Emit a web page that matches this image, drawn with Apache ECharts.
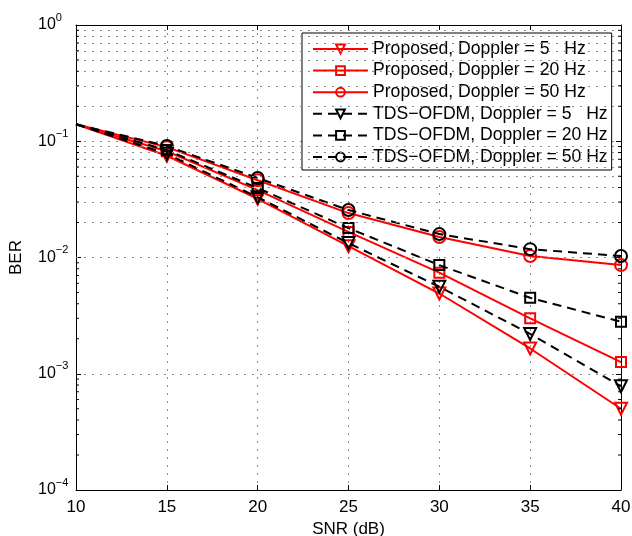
<!DOCTYPE html>
<html>
<head>
<meta charset="utf-8">
<script src="https://cdn.jsdelivr.net/npm/echarts@6/dist/echarts.min.js"></script>
<style>
  html, body { margin: 0; padding: 0; background: #fff; }
  #chart { width: 632px; height: 536px; }
</style>
</head>
<body>
<div id="chart"></div>
<script>
// SNR points (dB)
const snr = [10, 15, 20, 25, 30, 35, 40]

// BER
const prop5 = [0.14, 0.075, 0.032, 0.0125, 0.0049, 0.00165, 0.0005]
const prop20 = [0.14, 0.082, 0.038, 0.0166, 0.0074, 0.0030, 0.00126]
const prop50 = [0.14, 0.089, 0.0462, 0.0241, 0.0150, 0.0103, 0.0086]
const tds5 = [0.14, 0.078, 0.033, 0.0133, 0.0056, 0.0022, 0.00078]
const tds20 = [0.14, 0.084, 0.0396, 0.0179, 0.0086, 0.0045, 0.0028]
const tds50 = [0.14, 0.091, 0.0483, 0.0256, 0.0159, 0.0118, 0.0103]

const seriesNames = [
  'Proposed, Doppler = 5   Hz',
  'Proposed, Doppler = 20 Hz',
  'Proposed, Doppler = 50 Hz',
  'TDS\u2212OFDM, Doppler = 5   Hz',
  'TDS\u2212OFDM, Doppler = 20 Hz',
  'TDS\u2212OFDM, Doppler = 50 Hz'
]

// log minor grid values 2..9 x 10^e
const minorVals = []
for (let e = -4; e < 0; e++) {
  for (let m = 2; m <= 9; m++) minorVals.push(+(m * Math.pow(10, e)).toPrecision(3))
}

const FONT = '"Liberation Sans", Arial, Helvetica, sans-serif'
const dotted = { color: '#8a8a8a', width: 1, type: [2, 6] }

const chart = echarts.init(document.getElementById('chart'))

const makeSeries = (name, values, color, dashed, symbol, size, rotate) => ({
  name,
  type: 'line',
  data: snr.map((x, i) => i === 0 ? { value: [x, values[i]], symbol: 'none' } : [x, values[i]]),
  symbol,
  symbolSize: size,
  symbolRotate: rotate,
  showAllSymbol: true,
  z: dashed ? 4 : 3,
  lineStyle: { color, width: 2, type: dashed ? [9, 6] : 'solid' },
  itemStyle: { color: 'rgba(0,0,0,0)', borderColor: color, borderWidth: 2 },
  emphasis: { disabled: true },
  animation: false
})

const series = [
  makeSeries(seriesNames[0], prop5, '#ff0000', false, 'triangle', 12, 180),
  makeSeries(seriesNames[1], prop20, '#ff0000', false, 'rect', 10, 0),
  makeSeries(seriesNames[2], prop50, '#ff0000', false, 'circle', 12, 0),
  makeSeries(seriesNames[3], tds5, '#000000', true, 'triangle', 12, 180),
  makeSeries(seriesNames[4], tds20, '#000000', true, 'rect', 10, 0),
  makeSeries(seriesNames[5], tds50, '#000000', true, 'circle', 12, 0)
]

// minor grid lines
series.push({
  type: 'line',
  data: [],
  silent: true,
  animation: false,
  z: 1,
  markLine: {
    silent: true,
    symbol: 'none',
    label: { show: false },
    lineStyle: dotted,
    animation: false,
    data: minorVals.map(v => ({ yAxis: v }))
  }
})

// minor ticks on left and right edges
series.push({
  type: 'custom',
  silent: true,
  animation: false,
  z: 5,
  data: minorVals.map(v => [10, v]),
  encode: { x: 0, y: 1 },
  renderItem: (params, api) => {
    const v = api.value(1)
    const l = api.coord([10, v])
    const r = api.coord([40, v])
    const st = { stroke: '#000', lineWidth: 1 }
    return {
      type: 'group',
      children: [
        { type: 'line', shape: { x1: l[0], y1: l[1], x2: l[0] + 3, y2: l[1] }, style: st },
        { type: 'line', shape: { x1: r[0], y1: r[1], x2: r[0] - 3, y2: r[1] }, style: st }
      ]
    }
  }
})

const supLabel = (v) => {
  const e = Math.round(Math.log10(v))
  return '{b|10}{e|' + (e < 0 ? '\u2212' + (-e) : e) + '}'
}

chart.setOption({
  backgroundColor: '#fff',
  animation: false,
  textStyle: { fontFamily: FONT },
  grid: { left: 76, right: 11, top: 25, bottom: 46, show: false, containLabel: false, outerBoundsMode: 'none' },
  legend: {
    orient: 'vertical',
    left: 302,
    top: 33,
    padding: [7, 4, 4, 10],
    itemWidth: 55,
    itemHeight: 11,
    itemGap: 3.6,
    backgroundColor: '#fff',
    borderColor: '#000',
    borderWidth: 1,
    borderRadius: 0,
    textStyle: { fontSize: 17.6, color: '#000', fontFamily: FONT },
    data: seriesNames
  },
  xAxis: [
    {
      type: 'value',
      min: 10,
      max: 40,
      interval: 5,
      name: 'SNR (dB)',
      nameLocation: 'middle',
      nameGap: 29,
      nameTextStyle: { fontSize: 17, color: '#000', fontFamily: FONT },
      axisLine: { lineStyle: { color: '#000', width: 1 } },
      axisTick: { inside: true, length: 5, lineStyle: { color: '#000' } },
      axisLabel: { color: '#000', fontSize: 17, margin: 9, fontFamily: FONT },
      splitLine: { show: true, lineStyle: dotted }
    },
    {
      type: 'value',
      position: 'top',
      min: 10,
      max: 40,
      interval: 5,
      axisLine: { lineStyle: { color: '#000', width: 1 } },
      axisTick: { inside: true, length: 5, lineStyle: { color: '#000' } },
      axisLabel: { show: false },
      splitLine: { show: false }
    }
  ],
  yAxis: [
    {
      type: 'log',
      logBase: 10,
      min: 1e-4,
      max: 1,
      name: 'BER',
      nameLocation: 'middle',
      nameGap: 51,
      nameTextStyle: { fontSize: 17, color: '#000', fontFamily: FONT },
      axisLine: { lineStyle: { color: '#000', width: 1 } },
      axisTick: { inside: true, length: 5, lineStyle: { color: '#000' } },
      axisLabel: {
        align: 'left',
        margin: 38,
        formatter: supLabel,
        rich: {
          b: { fontSize: 16, lineHeight: 16, color: '#000', fontFamily: FONT },
          e: { fontSize: 11, lineHeight: 11, padding: [0, 0, 15, 0], color: '#000', fontFamily: FONT }
        }
      },
      splitLine: { show: true, lineStyle: dotted }
    },
    {
      type: 'log',
      logBase: 10,
      position: 'right',
      min: 1e-4,
      max: 1,
      axisLine: { lineStyle: { color: '#000', width: 1 } },
      axisTick: { inside: true, length: 5, lineStyle: { color: '#000' } },
      axisLabel: { show: false },
      splitLine: { show: false }
    }
  ],
  series
})
</script>
</body>
</html>
